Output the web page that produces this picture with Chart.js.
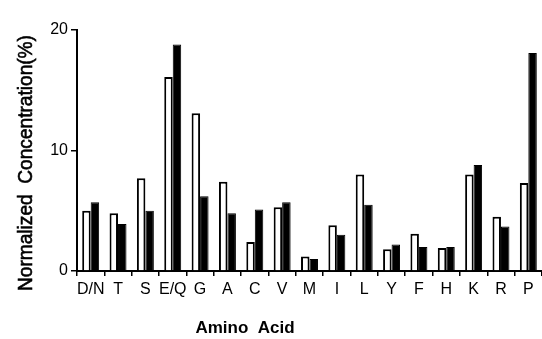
<!DOCTYPE html>
<html>
<head>
<meta charset="utf-8">
<script src="https://cdn.jsdelivr.net/npm/chart.js@4/dist/chart.umd.min.js"></script>
<style>
  body { margin: 0; background: #fff; }
  canvas { display: block; }
</style>
</head>
<body>
<canvas id="aaChart" width="542" height="339"></canvas>
<script>
const aminoAcids = ['D/N', 'T', 'S', 'E/Q', 'G', 'A', 'C', 'V', 'M', 'I', 'L', 'Y', 'F', 'H', 'K', 'R', 'P'];
const openSeries = [5.0, 4.8, 7.7, 16.1, 13.1, 7.4, 2.4, 5.3, 1.2, 3.8, 8.0, 1.8, 3.1, 1.9, 8.0, 4.5, 7.3];
const filledSeries = [5.7, 3.9, 5.0, 18.8, 6.2, 4.8, 5.1, 5.7, 1.0, 3.0, 5.5, 2.2, 2.0, 2.0, 8.8, 3.7, 18.1];
const yTicks = [0, 10, 20];

const sans = "'Liberation Sans', Arial, sans-serif";

// axis titles drawn by hand so they sit where the scan has them
const axisTitles = {
    id: 'axisTitles',
    afterDraw(chart) {
        const ctx = chart.ctx;
        ctx.save();
        ctx.fillStyle = '#000';
        ctx.strokeStyle = '#000';
        ctx.textAlign = 'center';
        ctx.textBaseline = 'middle';
        ctx.font = 'bold 17px ' + sans;
        ctx.fillText('Amino  Acid', 245, 328);
        ctx.translate(26, 163);
        ctx.rotate(-Math.PI / 2);
        ctx.scale(0.91, 1);
        ctx.font = '21px ' + sans;
        ctx.lineWidth = 0.6;
        ctx.fillText('Normalized  Concentration(%)', 0, 0);
        ctx.strokeText('Normalized  Concentration(%)', 0, 0);
        ctx.restore();
    }
};

new Chart(document.getElementById('aaChart'), {
    type: 'bar',
    data: {
        labels: aminoAcids,
        datasets: [
            { data: openSeries, backgroundColor: '#fff', borderColor: '#000', borderWidth: 2 },
            { data: filledSeries, backgroundColor: '#000', borderColor: '#000', borderWidth: 1 }
        ]
    },
    options: {
        responsive: false,
        animation: false,
        layout: { padding: { top: 30, right: 0, left: 0, bottom: 0 } },
        datasets: { bar: { barPercentage: 1, categoryPercentage: 0.62 } },
        plugins: { legend: { display: false }, tooltip: { enabled: false } },
        scales: {
            x: {
                grid: { drawOnChartArea: false, color: '#000', tickLength: 5, lineWidth: 1.5 },
                border: { color: '#000', width: 2 },
                ticks: { color: '#000', font: { family: sans, size: 16 }, padding: 4, maxRotation: 0, autoSkip: false },
                afterFit(scale) { scale.height = 68; }
            },
            y: {
                min: 0,
                max: 20,
                afterBuildTicks(scale) { scale.ticks = yTicks.map(v => ({ value: v })); },
                grid: { drawOnChartArea: false, color: '#000', tickLength: 6, lineWidth: 1.5 },
                border: { color: '#000', width: 2 },
                ticks: { color: '#000', font: { family: sans, size: 16 }, padding: 3 },
                afterFit(scale) { scale.width = 77; }
            }
        }
    },
    plugins: [axisTitles]
});
</script>
</body>
</html>
